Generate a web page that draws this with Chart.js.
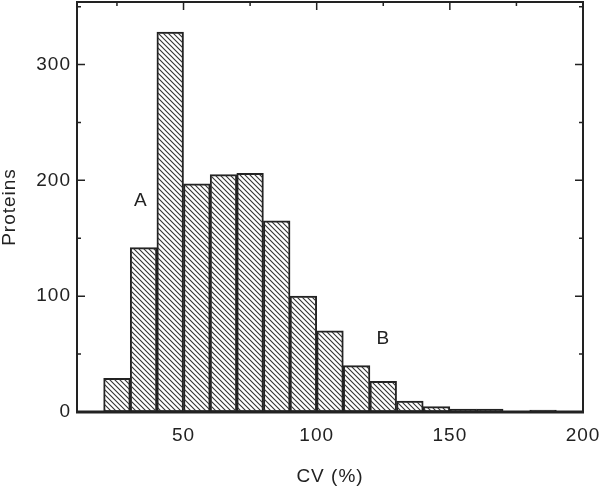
<!DOCTYPE html>
<html>
<head>
<meta charset="utf-8">
<script src="https://cdn.jsdelivr.net/npm/chart.js@4"></script>
<style>
  html, body { margin: 0; padding: 0; background: #fff; }
  #wrap { width: 601px; height: 489px; }
</style>
</head>
<body>
<div id="wrap"><canvas id="cvChart"></canvas></div>
<script>
// histogram bins (left edge, width 10) and protein counts
const binStarts = [10, 20, 30, 40, 50, 60, 70, 80, 90, 100, 110, 120, 130, 140, 150, 160, 170, 180, 190];
const binCenters = [15, 25, 35, 45, 55, 65, 75, 85, 95, 105, 115, 125, 135, 145, 155, 165, 175, 185, 195];
const proteinCounts = [0, 29, 142, 328, 197, 205, 206, 165, 100, 70, 40, 26.5, 9.5, 4.6, 2.6, 2.6, 0, 1.7, 0];

const xTicks = [50, 100, 150, 200];
const xMinorTicks = [25, 75, 125, 175];
const yTicks = [0, 100, 200, 300];
const yMinorTicks = [50, 150, 250, 350];

// letters written inside the plot
const noteTexts = ['A', 'B'];
const noteX = [34, 125];
const noteY = [182, 63];

const ink = '#222';
const fontFamily = '"Liberation Sans", Arial, Helvetica, sans-serif';
const fontSize = 19;

function makeHatch(color) {
  const s = 5;
  const c = document.createElement('canvas');
  c.width = s; c.height = s;
  const g = c.getContext('2d');
  g.strokeStyle = color;
  g.lineWidth = 1.1;
  g.beginPath();
  g.moveTo(-1, -1); g.lineTo(s + 1, s + 1);
  g.moveTo(-1, s - 1); g.lineTo(1, s + 1);
  g.moveTo(s - 1, -1); g.lineTo(s + 1, 1);
  g.stroke();
  return g.createPattern(c, 'repeat');
}

// no extra room for half labels, the plot box is fixed by layout padding
function noPad(scale) {
  scale.paddingTop = 0;
  scale.paddingBottom = 0;
  scale.paddingLeft = 0;
  scale.paddingRight = 0;
}

// the scanned figure has slightly spaced-out lettering
const spacingPlugin = {
  id: 'spacing',
  beforeLayout(chart) { chart.ctx.letterSpacing = '1px'; },
  beforeDraw(chart) { chart.ctx.letterSpacing = '1px'; },
};

// frame, inward ticks and the A / B notes
const framePlugin = {
  id: 'frame',
  afterDatasetsDraw(chart) {
    const ctx = chart.ctx;
    const a = chart.chartArea;
    const xs = chart.scales.x, ys = chart.scales.y;
    ctx.save();
    ctx.strokeStyle = ink;
    ctx.lineWidth = 2;
    ctx.beginPath();
    ctx.moveTo(a.left, a.bottom); ctx.lineTo(a.left, a.top);
    ctx.lineTo(a.right, a.top); ctx.lineTo(a.right, a.bottom);
    ctx.stroke();
    ctx.lineWidth = 3;
    ctx.beginPath();
    ctx.moveTo(a.left - 1, a.bottom); ctx.lineTo(a.right + 1, a.bottom);
    ctx.stroke();

    ctx.lineWidth = 1.5;
    ctx.beginPath();
    yTicks.concat(yMinorTicks).forEach(v => {
      const len = yTicks.includes(v) ? 8 : 4;
      const y = ys.getPixelForValue(v);
      if (y < a.top || y > a.bottom - 2) return;
      ctx.moveTo(a.left, y); ctx.lineTo(a.left + len, y);
      ctx.moveTo(a.right, y); ctx.lineTo(a.right - len, y);
    });
    xTicks.concat(xMinorTicks).forEach(v => {
      const len = xTicks.includes(v) ? 8 : 4;
      const x = xs.getPixelForValue(v);
      if (x <= a.left || x >= a.right - 1) return;
      ctx.moveTo(x, a.top); ctx.lineTo(x, a.top + len);
    });
    ctx.stroke();

    ctx.fillStyle = ink;
    ctx.font = fontSize + 'px ' + fontFamily;
    ctx.textAlign = 'center';
    ctx.textBaseline = 'middle';
    noteTexts.forEach((t, i) => {
      ctx.fillText(t, xs.getPixelForValue(noteX[i]), ys.getPixelForValue(noteY[i]));
    });
    ctx.restore();
  }
};

document.addEventListener('DOMContentLoaded', function() {
  const ctx = document.getElementById('cvChart').getContext('2d');

  new Chart(ctx, {
    type: 'bar',
    data: {
      datasets: [{
        label: 'Proteins',
        data: binCenters.map((x, i) => ({ x: x, y: proteinCounts[i] })),
        backgroundColor: makeHatch('#333'),
        borderColor: ink,
        borderWidth: 1.3,
        borderSkipped: false,
        barPercentage: 1,
        categoryPercentage: 1,
      }],
    },
    options: {
      responsive: true,
      maintainAspectRatio: false,
      animation: false,
      layout: { padding: { top: 2, right: 18, left: 0, bottom: 0 } },
      plugins: {
        legend: { display: false },
        tooltip: { enabled: false },
      },
      scales: {
        x: {
          type: 'linear',
          offset: false,
          min: 10,
          max: 200,
          grid: { display: false, drawTicks: false },
          border: { display: false },
          afterBuildTicks: scale => { scale.ticks = xTicks.map(v => ({ value: v })); },
          afterFit: scale => { scale.height = 77; noPad(scale); },
          ticks: {
            autoSkip: false,
            maxRotation: 0,
            padding: 12,
            color: ink,
            font: { family: fontFamily, size: fontSize },
          },
          title: {
            display: true,
            text: 'CV (%)',
            color: ink,
            font: { family: fontFamily, size: fontSize, lineHeight: 1 },
            padding: { top: 0, bottom: 3 },
          },
        },
        y: {
          min: 0,
          max: 354,
          grid: { display: false, drawTicks: false },
          border: { display: false },
          afterBuildTicks: scale => { scale.ticks = yTicks.map(v => ({ value: v })); },
          afterFit: scale => { scale.width = 77; noPad(scale); },
          ticks: {
            padding: 6,
            color: ink,
            font: { family: fontFamily, size: fontSize },
          },
          title: {
            display: true,
            text: 'Proteins',
            color: ink,
            font: { family: fontFamily, size: fontSize, lineHeight: 1 },
            padding: { top: 0, bottom: 0 },
          },
        },
      },
    },
    plugins: [spacingPlugin, framePlugin],
  });
});
</script>
</body>
</html>
